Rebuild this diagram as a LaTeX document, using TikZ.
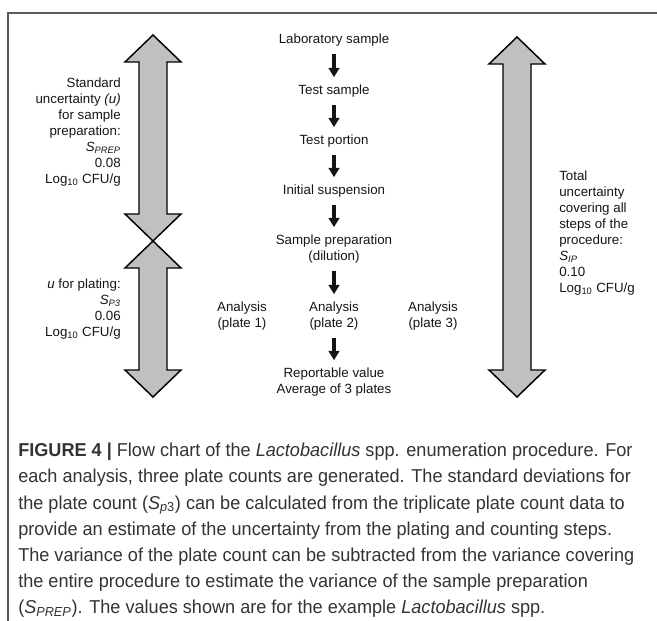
\documentclass[tikz,border=0pt]{standalone}
\usepackage{fontspec}
\setmainfont{Liberation Sans}
\newfontfamily\capfont[FakeStretch=0.97]{Liberation Sans}
\usepackage{tikz}
\usetikzlibrary{arrows.meta, positioning}
\definecolor{bandgray}{HTML}{C0C0C0}
\definecolor{capgray}{HTML}{333333}
\definecolor{framegray}{HTML}{5A5A5A}
\definecolor{inkblack}{HTML}{151515}

% double-headed uncertainty band: x, top tip, bottom tip
\newcommand{\uncband}[3]{%
  \draw[band] (#1,#2) -- (#1+28,#2+27) -- (#1+14,#2+27) -- (#1+14,#3-27)
    -- (#1+28,#3-27) -- (#1,#3) -- (#1-28,#3-27) -- (#1-14,#3-27)
    -- (#1-14,#2+27) -- (#1-28,#2+27) -- cycle;}

\begin{document}
\begin{tikzpicture}[
                x=0.75pt, y=-0.75pt, % pixel grid of the figure
                stepnode/.style={inner sep=0pt, align=center, text=inkblack, font=\fontsize{10}{12}\selectfont}, % flow step text
                side/.style={inner sep=0pt, text=inkblack, font=\fontsize{10}{12}\selectfont}, % uncertainty labels
                flow/.style={-{Triangle[width=8pt,length=7pt]}, line width=2.4pt, inkblack, shorten <=6pt, shorten >=5.5pt}, % small down arrows
                band/.style={fill=bandgray, draw=black, line width=1.1pt, line join=miter} % grey double arrows
                ]
                \useasboundingbox (0,0) rectangle (657,621);
                \draw[framegray, line width=1.2pt] (657,13) -- (8,13) -- (8,621);

                % flow of the procedure
                \node[stepnode] (lab) at (334,40) {Laboratory sample};
                \node[stepnode] (testsample) at (334,91) {Test sample};
                \node[stepnode] (portion) at (334,141) {Test portion};
                \node[stepnode] (suspension) at (334,191) {Initial suspension};
                \node[stepnode] (prep) at (334,249) {Sample preparation\\(dilution)};
                \node[stepnode] (plate1) at (242,316) {Analysis\\(plate 1)};
                \node[stepnode] (plate2) at (334,316) {Analysis\\(plate 2)};
                \node[stepnode] (plate3) at (433,316) {Analysis\\(plate 3)};
                \node[stepnode] (result) at (334,382) {Reportable value\\Average of 3 plates};

                \draw[flow] (lab) -- (testsample);
                \draw[flow] (testsample) -- (portion);
                \draw[flow] (portion) -- (suspension);
                \draw[flow] (suspension) -- (prep);
                \draw[flow] (prep) -- (plate2);
                \draw[flow] (plate2) -- (result);

                % uncertainty bands
                \uncband{153}{35}{241}
                \uncband{153}{241}{397}
                \uncband{517}{37}{397}

                \node[side, align=right, anchor=north east] (uprep) at (121,78)
                  {Standard\\uncertainty \textit{(u)}\\for sample\\preparation:\\\textit{S\textsubscript{PREP}}\\0.08\\Log\textsubscript{10} CFU/g};
                \node[side, align=right, anchor=north east] (uplate) at (121,279)
                  {\textit{u} for plating:\\\textit{S\textsubscript{P3}}\\0.06\\Log\textsubscript{10} CFU/g};
                \node[side, align=left, anchor=north west] (utotal) at (559,171)
                  {Total\\uncertainty\\covering all\\steps of the\\procedure:\\\textit{S\textsubscript{IP}}\\0.10\\Log\textsubscript{10} CFU/g};

                % caption
                \node[inner sep=0pt, anchor=north west, align=left, text=capgray,
                      font=\capfont\fontsize{14}{19.6}\selectfont] (caption) at (18,443)
                  {\textbf{FIGURE 4 |} Flow chart of the \textit{Lactobacillus} spp. enumeration procedure. For\\
                   each analysis, three plate counts are generated. The standard deviations for\\
                   the plate count (\textit{S}\textsubscript{\textit{p}3}) can be calculated from the triplicate plate count data to\\
                   provide an estimate of the uncertainty from the plating and counting steps.\\
                   The variance of the plate count can be subtracted from the variance covering\\
                   the entire procedure to estimate the variance of the sample preparation\\
                   (\textit{S}\textsubscript{\textit{PREP}}). The values shown are for the example \textit{Lactobacillus} spp.};
            \end{tikzpicture}
\end{document}
